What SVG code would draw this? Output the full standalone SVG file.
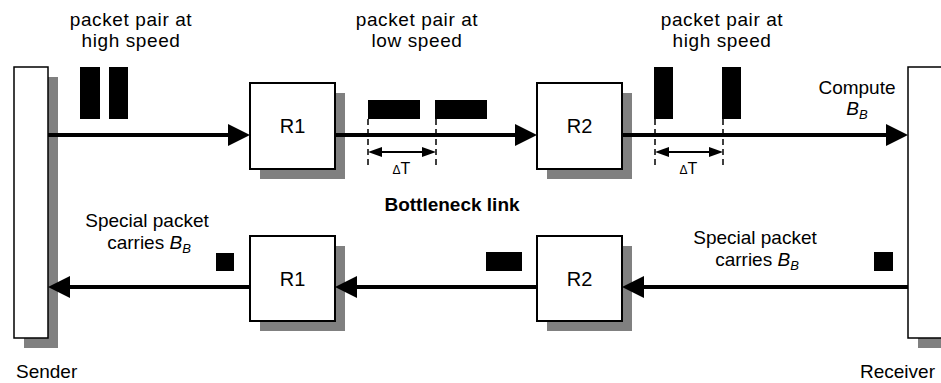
<svg xmlns="http://www.w3.org/2000/svg" width="941" height="383" viewBox="0 0 941 383">
<style>
text{font-family:"Liberation Sans",Arial,sans-serif;fill:#000}
.lbl{font-size:19px;text-anchor:middle}
.top{letter-spacing:0.6px}
.rt{font-size:20px;text-anchor:middle}
.dt{font-size:16px;text-anchor:middle}
.shadow{fill:#808080}
.box{fill:#fff;stroke:#000;stroke-width:2}
.host{fill:#fff;stroke:#000;stroke-width:1.5}
.pkt{fill:#000}
.link{stroke:#000;stroke-width:4;fill:none;marker-end:url(#ah)}
.dim{stroke:#000;stroke-width:2;fill:none;marker-start:url(#dh);marker-end:url(#dh)}
.dash{stroke:#000;stroke-width:1.5;stroke-dasharray:6 4}
</style>
<defs>
<marker id="ah" markerUnits="userSpaceOnUse" markerWidth="22" markerHeight="22" refX="4" refY="11" orient="auto">
<path d="M0,0 L22,11 L0,22 z" fill="#000"/>
</marker>
<marker id="dh" markerUnits="userSpaceOnUse" markerWidth="14" markerHeight="10" refX="6" refY="5" orient="auto-start-reverse">
<path d="M0,0 L14,5 L0,10 z" fill="#000"/>
</marker>
</defs>
<g id="sender">
<rect class="shadow" x="24" y="77" width="34" height="271"/>
<rect class="host" x="14" y="67" width="34" height="271"/>
<text x="16" y="378" style="font-size:19px">Sender</text>
</g>
<g id="receiver">
<rect class="shadow" x="918" y="77" width="34" height="271"/>
<rect class="host" x="908" y="67" width="40" height="271"/>
<text x="935" y="378" style="font-size:19px;text-anchor:end">Receiver</text>
</g>
<g id="r1-top">
<rect class="shadow" x="260" y="93" width="85" height="86"/>
<rect class="box" x="250" y="83" width="85" height="86"/>
<text class="rt" x="292.5" y="133">R1</text>
</g>
<g id="r2-top">
<rect class="shadow" x="547" y="93" width="85" height="86"/>
<rect class="box" x="537" y="83" width="85" height="86"/>
<text class="rt" x="579.5" y="133">R2</text>
</g>
<g id="r1-bottom">
<rect class="shadow" x="260" y="246" width="85" height="85"/>
<rect class="box" x="250" y="236" width="85" height="85"/>
<text class="rt" x="292.5" y="286">R1</text>
</g>
<g id="r2-bottom">
<rect class="shadow" x="547" y="246" width="85" height="85"/>
<rect class="box" x="537" y="236" width="85" height="85"/>
<text class="rt" x="579.5" y="286">R2</text>
</g>
<g id="connectors">
<line class="link" x1="48" y1="135" x2="232" y2="135"/>
<line class="link" x1="335" y1="135" x2="519" y2="135"/>
<line class="link" x1="622" y1="135" x2="890" y2="135"/>
<line class="link" x1="908" y1="287" x2="640" y2="287"/>
<line class="link" x1="537" y1="287" x2="353" y2="287"/>
<line class="link" x1="250" y1="287" x2="66" y2="287"/>
<line class="dash" x1="368" y1="119" x2="368" y2="168"/>
<line class="dash" x1="436" y1="119" x2="436" y2="168"/>
<line class="dim" x1="376" y1="152" x2="428" y2="152"/>
<line class="dash" x1="655" y1="119" x2="655" y2="168"/>
<line class="dash" x1="723" y1="119" x2="723" y2="168"/>
<line class="dim" x1="663" y1="152" x2="715" y2="152"/>
</g>
<g id="packets">
<rect class="pkt" x="80" y="67" width="20" height="52"/>
<rect class="pkt" x="109" y="67" width="19" height="52"/>
<rect class="pkt" x="368" y="100" width="52" height="19"/>
<rect class="pkt" x="435" y="100" width="52" height="19"/>
<rect class="pkt" x="654" y="67" width="19" height="52"/>
<rect class="pkt" x="722" y="67" width="19" height="52"/>
<rect class="pkt" x="216" y="253" width="18" height="18"/>
<rect class="pkt" x="486" y="252" width="36" height="19"/>
<rect class="pkt" x="874" y="252" width="19" height="19"/>
</g>
<g id="labels">
<text class="lbl top" x="131" y="26">packet pair at</text>
<text class="lbl top" x="131" y="47">high speed</text>
<text class="lbl top" x="417" y="26">packet pair at</text>
<text class="lbl top" x="417" y="47">low speed</text>
<text class="lbl top" x="722" y="26">packet pair at</text>
<text class="lbl top" x="722" y="47">high speed</text>
<text class="dt" x="401.5" y="174"><tspan style="font-size:12px">Δ</tspan>T</text>
<text class="dt" x="688.5" y="174"><tspan style="font-size:12px">Δ</tspan>T</text>
<text class="lbl" x="857" y="94">Compute</text>
<text class="lbl" x="857" y="115"><tspan style="font-style:italic">B</tspan><tspan style="font-style:italic;font-size:13px" dy="4">B</tspan></text>
<text class="lbl" x="452" y="211" style="font-weight:bold">Bottleneck link</text>
<text class="lbl" x="147" y="227">Special packet</text>
<text class="lbl" x="149" y="249">carries <tspan style="font-style:italic">B</tspan><tspan style="font-style:italic;font-size:13px" dy="4">B</tspan></text>
<text class="lbl" x="755" y="244">Special packet</text>
<text class="lbl" x="757" y="266">carries <tspan style="font-style:italic">B</tspan><tspan style="font-style:italic;font-size:13px" dy="4">B</tspan></text>
</g>
</svg>
